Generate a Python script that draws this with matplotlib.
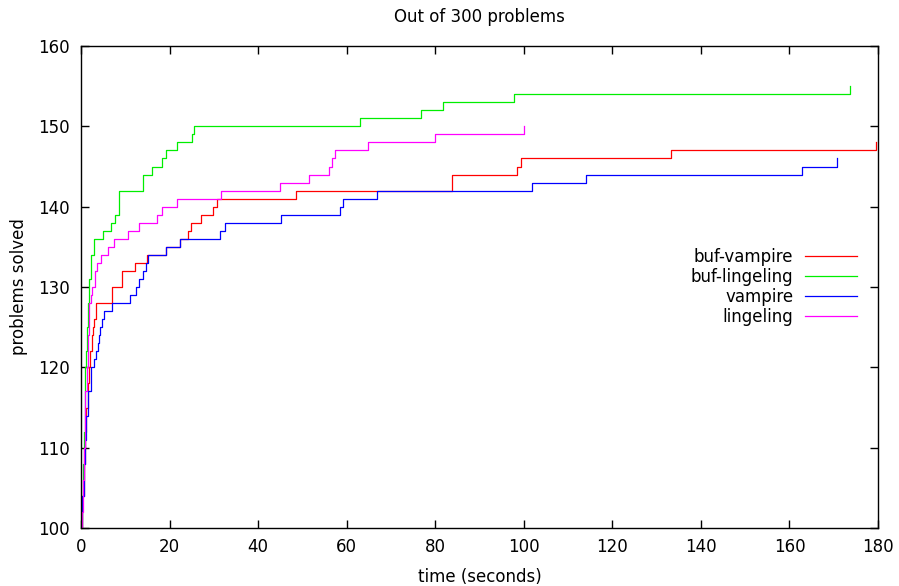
import matplotlib
matplotlib.use("Agg")
import matplotlib.pyplot as plt

# ---- data (time in seconds, cumulative problems solved) ----
t_buf_vampire = [0, 0.3, 0.6, 0.9, 1.2, 1.5, 1.8, 2.1, 2.4, 2.7, 3.0, 3.4, 7.0, 9.3,
                 12.3, 14.8, 19.3, 22.3, 24.2, 24.8, 27.2, 29.7, 30.8, 48.6, 83.7,
                 98.5, 99.3, 133.2, 179.6]
n_buf_vampire = [100, 104, 108, 112, 115, 118, 120, 122, 124, 125, 126, 128, 130, 132,
                 133, 134, 135, 136, 137, 138, 139, 140, 141, 142, 144,
                 145, 146, 147, 148]

t_buf_lingeling = [0, 0.3, 0.5, 0.7, 0.9, 1.0, 1.2, 1.4, 1.6, 1.8, 2.3, 2.9, 5.0, 6.85,
                   7.75, 8.65, 14.1, 16.1, 18.2, 19.1, 21.6, 25.0, 25.5, 63.1, 76.8,
                   81.8, 97.9, 173.7]
n_buf_lingeling = [100, 104, 108, 112, 116, 120, 122, 125, 128, 131, 134, 136, 137, 138,
                   139, 142, 144, 145, 146, 147, 148, 149, 150, 151, 152,
                   153, 154, 155]

t_vampire = [0, 0.3, 0.6, 0.9, 1.2, 1.6, 2.2, 2.9, 3.5, 3.8, 4.0, 4.4, 4.7, 5.2, 7.1,
             11.0, 12.4, 13.2, 14.1, 14.6, 15.1, 19.3, 22.3, 31.5, 32.6, 45.2, 58.5,
             59.2, 66.8, 101.8, 114.1, 162.9, 170.8]
n_vampire = [100, 104, 108, 111, 114, 117, 120, 121, 122, 123, 124, 125, 126, 127, 128,
             129, 130, 131, 132, 133, 134, 135, 136, 137, 138, 139, 140,
             141, 142, 143, 144, 145, 146]

t_lingeling = [0, 0.2, 0.4, 0.6, 0.8, 1.0, 1.3, 1.6, 1.9, 2.2, 2.5, 3.1, 3.2, 3.6, 4.6,
               6.2, 7.45, 10.6, 13.0, 17.2, 18.4, 21.6, 31.7, 45.0, 51.4, 55.9, 56.8,
               57.4, 64.9, 79.9, 100.1]
n_lingeling = [100, 102, 106, 110, 114, 117, 120, 124, 128, 129, 130, 131, 132, 133, 134,
               135, 136, 137, 138, 139, 140, 141, 142, 143, 144, 145, 146,
               147, 148, 149, 150]

series = [
    ("buf-vampire", t_buf_vampire, n_buf_vampire, "#ff0000"),
    ("buf-lingeling", t_buf_lingeling, n_buf_lingeling, "#00ee00"),
    ("vampire", t_vampire, n_vampire, "#0000ff"),
    ("lingeling", t_lingeling, n_lingeling, "#ff00ff"),
]

x_ticks = [0, 20, 40, 60, 80, 100, 120, 140, 160, 180]
y_ticks = [100, 110, 120, 130, 140, 150, 160]

plt.rcParams['font.family'] = ['DejaVu Sans']
fig = plt.figure(figsize=(8.99, 5.86), dpi=100)
ax = fig.add_axes([81 / 899, 1 - 528 / 586, (878 - 81) / 899, (528 - 46) / 586])

for label, t, n, c in series:
    ax.plot(t, n, drawstyle="steps-post", color=c, lw=0.9, label=label)

ax.set_xlim(0, 180)
ax.set_ylim(100, 160)
ax.set_xticks(x_ticks)
ax.set_yticks(y_ticks)
ax.tick_params(direction="in", length=6, width=1, top=True, right=True,
               labelsize=12)
ax.tick_params(axis="y", pad=8)
ax.tick_params(axis="x", pad=7)
for s in ax.spines.values():
    s.set_linewidth(1)

ax.set_title("Out of 300 problems", fontsize=12, pad=17)
ax.set_xlabel("time (seconds)", fontsize=12, labelpad=9)
ax.set_ylabel("problems solved", fontsize=12, labelpad=7)

leg = ax.legend(loc="center right", bbox_to_anchor=(857 / 899, 1 - 287 / 586),
                bbox_transform=fig.transFigure, frameon=False, markerfirst=False,
                fontsize=12, handlelength=3.1, handletextpad=0.72, labelspacing=0.12,
                borderpad=0, borderaxespad=0)

fig.savefig("out.png", dpi=100)
